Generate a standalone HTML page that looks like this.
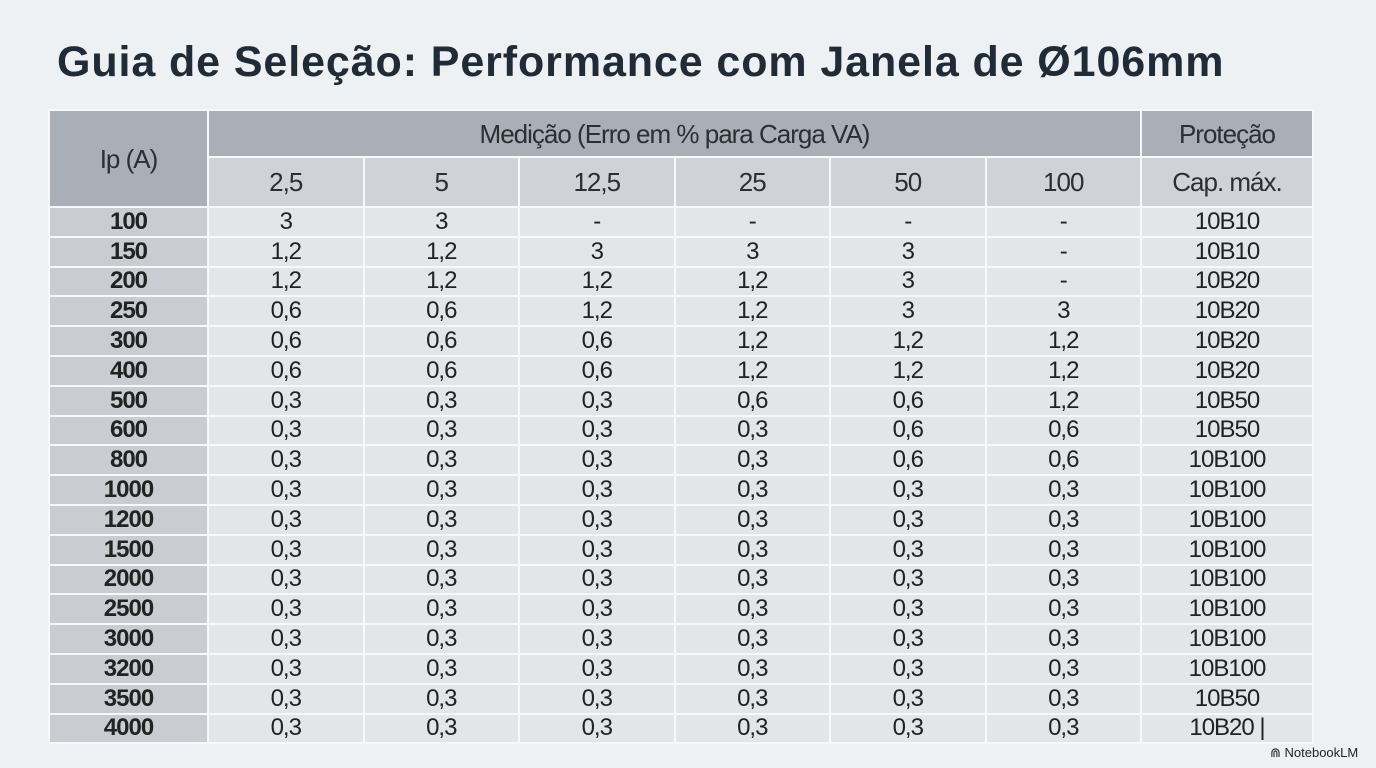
<!DOCTYPE html>
<html><head><meta charset="utf-8"><style>
html,body{margin:0;padding:0}
body{width:1376px;height:768px;background:#eef1f4;position:relative;overflow:hidden;font-family:"Liberation Sans",sans-serif;}
h1{position:absolute;left:57px;top:38px;margin:0;font-size:43px;font-weight:bold;color:#1f2b36;letter-spacing:0.9px;white-space:nowrap}
table{position:absolute;left:48px;top:109px;border-collapse:collapse;table-layout:fixed}
td{border:2px solid #f7f8fa;text-align:center;padding:0;font-size:24px;line-height:24px;color:#222;height:27.8px;background:#e3e6e9;white-space:nowrap;letter-spacing:-1px}
td.ip{background:#c9cdd2;font-weight:bold}
tr.h1 td{background:#a9afb6;height:45px;font-size:26px;color:#2a2f35}
tr.h2 td{background:#cfd3d7;height:48px;font-size:26px;color:#2a2f35}
td.iph{background:#a9afb6 !important;font-size:26px;color:#2a2f35}
.logo{position:absolute;left:1270px;top:745px;font-size:13px;color:#222}
</style></head><body>
<h1>Guia de Seleção: Performance com Janela de Ø106mm</h1>
<table>
<colgroup><col style="width:159px"><col style="width:155.5px"><col style="width:155.5px"><col style="width:155.5px"><col style="width:155.5px"><col style="width:155.5px"><col style="width:155.5px"><col style="width:172px"></colgroup>
<tr class="h1"><td class="iph" rowspan="2">Ip (A)</td><td colspan="6">Medição (Erro em % para Carga VA)</td><td>Proteção</td></tr>
<tr class="h2"><td>2,5</td><td>5</td><td>12,5</td><td>25</td><td>50</td><td>100</td><td>Cap. máx.</td></tr>
<tr><td class="ip">100</td><td>3</td><td>3</td><td>-</td><td>-</td><td>-</td><td>-</td><td>10B10</td></tr>
<tr><td class="ip">150</td><td>1,2</td><td>1,2</td><td>3</td><td>3</td><td>3</td><td>-</td><td>10B10</td></tr>
<tr><td class="ip">200</td><td>1,2</td><td>1,2</td><td>1,2</td><td>1,2</td><td>3</td><td>-</td><td>10B20</td></tr>
<tr><td class="ip">250</td><td>0,6</td><td>0,6</td><td>1,2</td><td>1,2</td><td>3</td><td>3</td><td>10B20</td></tr>
<tr><td class="ip">300</td><td>0,6</td><td>0,6</td><td>0,6</td><td>1,2</td><td>1,2</td><td>1,2</td><td>10B20</td></tr>
<tr><td class="ip">400</td><td>0,6</td><td>0,6</td><td>0,6</td><td>1,2</td><td>1,2</td><td>1,2</td><td>10B20</td></tr>
<tr><td class="ip">500</td><td>0,3</td><td>0,3</td><td>0,3</td><td>0,6</td><td>0,6</td><td>1,2</td><td>10B50</td></tr>
<tr><td class="ip">600</td><td>0,3</td><td>0,3</td><td>0,3</td><td>0,3</td><td>0,6</td><td>0,6</td><td>10B50</td></tr>
<tr><td class="ip">800</td><td>0,3</td><td>0,3</td><td>0,3</td><td>0,3</td><td>0,6</td><td>0,6</td><td>10B100</td></tr>
<tr><td class="ip">1000</td><td>0,3</td><td>0,3</td><td>0,3</td><td>0,3</td><td>0,3</td><td>0,3</td><td>10B100</td></tr>
<tr><td class="ip">1200</td><td>0,3</td><td>0,3</td><td>0,3</td><td>0,3</td><td>0,3</td><td>0,3</td><td>10B100</td></tr>
<tr><td class="ip">1500</td><td>0,3</td><td>0,3</td><td>0,3</td><td>0,3</td><td>0,3</td><td>0,3</td><td>10B100</td></tr>
<tr><td class="ip">2000</td><td>0,3</td><td>0,3</td><td>0,3</td><td>0,3</td><td>0,3</td><td>0,3</td><td>10B100</td></tr>
<tr><td class="ip">2500</td><td>0,3</td><td>0,3</td><td>0,3</td><td>0,3</td><td>0,3</td><td>0,3</td><td>10B100</td></tr>
<tr><td class="ip">3000</td><td>0,3</td><td>0,3</td><td>0,3</td><td>0,3</td><td>0,3</td><td>0,3</td><td>10B100</td></tr>
<tr><td class="ip">3200</td><td>0,3</td><td>0,3</td><td>0,3</td><td>0,3</td><td>0,3</td><td>0,3</td><td>10B100</td></tr>
<tr><td class="ip">3500</td><td>0,3</td><td>0,3</td><td>0,3</td><td>0,3</td><td>0,3</td><td>0,3</td><td>10B50</td></tr>
<tr><td class="ip">4000</td><td>0,3</td><td>0,3</td><td>0,3</td><td>0,3</td><td>0,3</td><td>0,3</td><td>10B20 |</td></tr>
</table>
<div class="logo">⋒ NotebookLM</div>
</body></html>
